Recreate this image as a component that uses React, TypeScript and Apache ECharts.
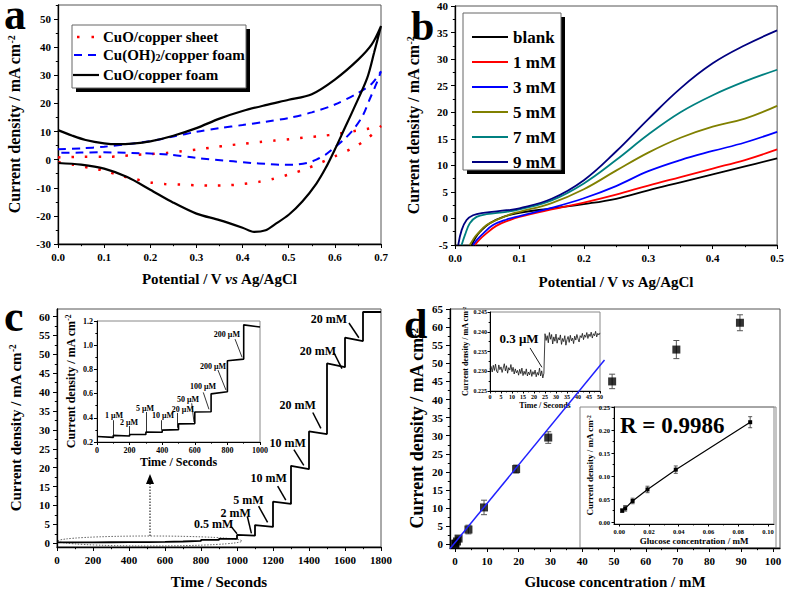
import React, { useEffect, useRef } from "react";
import * as echarts from "echarts";

const FONT = '"Liberation Serif", "Times New Roman", Times, serif';

// ---------- Panel a : cyclic voltammograms (loops) ----------
const aSheetX = [0, 0.05, 0.1, 0.135, 0.167, 0.2, 0.236, 0.268, 0.302, 0.337, 0.37, 0.4, 0.438, 0.47, 0.503, 0.535, 0.57, 0.604, 0.636, 0.669, 0.7,
  0.669, 0.636, 0.6, 0.568, 0.532, 0.5, 0.467, 0.435, 0.4, 0.37, 0.333, 0.3, 0.268, 0.232, 0.2, 0.167, 0.135, 0.1, 0.07, 0.033, 0];
const aSheetY = [0.8, 1.0, 1.0, 1.2, 1.7, 2.0, 2.4, 3.0, 3.6, 4.4, 5.1, 5.6, 6.3, 6.8, 7.3, 7.9, 8.4, 9.1, 10.0, 10.9, 11.9,
  7.3, 3.9, 1.2, -1.2, -3.6, -5.3, -6.8, -7.9, -8.7, -9.1, -9.2, -9.1, -8.9, -8.7, -8.1, -6.9, -5.7, -3.9, -3.0, -1.8, -0.9];
const aOHX = [0, 0.05, 0.1, 0.15, 0.2, 0.25, 0.3, 0.35, 0.4, 0.45, 0.5, 0.55, 0.6, 0.65, 0.68, 0.7,
  0.69, 0.675, 0.66, 0.64, 0.62, 0.6, 0.58, 0.56, 0.54, 0.51, 0.48, 0.45, 0.42, 0.38, 0.3, 0.24, 0.16, 0.09, 0.05, 0];
const aOHY = [3.7, 4.0, 4.6, 5.5, 6.6, 8.2, 9.9, 11.2, 12.3, 13.5, 14.8, 16.8, 19.6, 23.7, 27, 31.4,
  27, 21.3, 15.5, 10.7, 7.2, 4.4, 1.8, 0, -1.2, -1.8, -1.8, -1.5, -1.2, -0.6, 0.6, 1.8, 2.4, 2.6, 2.5, 2.4];
const aFoamX = [0, 0.03, 0.06, 0.1, 0.13, 0.16, 0.2, 0.25, 0.3, 0.35, 0.4, 0.45, 0.5, 0.55, 0.6, 0.65, 0.68, 0.7,
  0.685, 0.67, 0.64, 0.62, 0.6, 0.58, 0.56, 0.53, 0.5, 0.47, 0.45, 0.425, 0.4, 0.35, 0.3, 0.25, 0.2, 0.15, 0.1, 0.05, 0];
const aFoamY = [10.5, 8.6, 7.0, 5.8, 5.5, 5.7, 6.5, 8.5, 11.2, 14.6, 17.3, 19.4, 21.3, 23.3, 28.5, 35.5, 41, 47.5,
  38, 29, 17.8, 10.7, 3.6, -3, -8.5, -14.8, -19.6, -23, -25.1, -25.7, -24.2, -21.5, -19.2, -15.3, -10.7, -6.2, -3.2, -1.8, -1.2];
const aLegend = ["CuO/copper sheet", "Cu(OH){sub|2}/copper foam", "CuO/copper foam"];

// ---------- Panel b : LSV curves ----------
const bNames = ["blank", "1 mM", "3 mM", "5 mM", "7 mM", "9 mM"];
const bColors = ["#000000", "#ff0000", "#0000ff", "#808000", "#008080", "#000080"];
const bBlankX = [0.026, 0.032, 0.039, 0.054, 0.075, 0.1, 0.15, 0.2, 0.25, 0.3, 0.35, 0.4, 0.45, 0.5];
const bBlankY = [-5, -3.6, -2.5, -0.9, 0.3, 1.05, 1.9, 2.7, 3.7, 5.3, 6.8, 8.3, 9.8, 11.3];
const b1X = [0.031, 0.038, 0.046, 0.064, 0.085, 0.1, 0.15, 0.2, 0.25, 0.3, 0.35, 0.4, 0.45, 0.5];
const b1Y = [-5, -4.0, -3.1, -1.4, -0.3, 0.3, 1.7, 3.0, 4.5, 6.2, 7.8, 9.4, 11.0, 13.0];
const b3X = [0.028, 0.035, 0.044, 0.059, 0.08, 0.1, 0.15, 0.2, 0.25, 0.3, 0.35, 0.4, 0.45, 0.5];
const b3Y = [-5, -3.9, -2.8, -1.25, -0.2, 0.45, 2.0, 3.8, 6.1, 8.9, 11.0, 12.7, 14.3, 16.3];
const b5X = [0.023, 0.028, 0.0335, 0.049, 0.07, 0.09, 0.1, 0.15, 0.2, 0.25, 0.3, 0.35, 0.4, 0.45, 0.5];
const b5Y = [-5, -4.0, -3.1, -1.25, 0, 0.95, 1.25, 2.9, 5.5, 9.0, 12.4, 15.2, 17.3, 18.8, 21.2];
const b7X = [0.0103, 0.0155, 0.023, 0.0335, 0.049, 0.08, 0.1, 0.15, 0.2, 0.25, 0.3, 0.35, 0.4, 0.45, 0.5];
const b7Y = [-5, -3.1, -0.9, 0.3, 0.8, 1.25, 1.7, 3.4, 6.6, 11.0, 15.8, 20.0, 23.2, 25.8, 28.0];
const b9X = [0.005, 0.0103, 0.018, 0.028, 0.044, 0.08, 0.1, 0.15, 0.2, 0.25, 0.3, 0.35, 0.4, 0.45, 0.5];
const b9Y = [-5, -2.2, -0.3, 0.6, 1.05, 1.55, 1.9, 3.7, 7.2, 12.6, 18.7, 24.5, 29.2, 32.6, 35.4];

// ---------- Panel c : amperometric steps ----------
const cStepTimes = [0, 100, 200, 300, 400, 500, 600, 700, 800, 900, 1000, 1100, 1200, 1300, 1400, 1500, 1600, 1700];
const cStepStart = [0.245, 0.255, 0.262, 0.282, 0.298, 0.350, 0.448, 0.598, 0.872, 1.168, 2.2, 4.8, 11.0, 20.5, 29.6, 47.6, 54.4, 61.2];
const cStepEnd = [0.238, 0.250, 0.262, 0.280, 0.302, 0.352, 0.450, 0.615, 0.885, 1.150, 2.0, 4.3, 10.4, 19.6, 28.9, 46.6, 53.5, 61.2];
const cStepLength = 100;
const cInsetSteps = 10;
const cNotes = [
  { t: "0.5 mM", x: 870, y: 5.2, x1: 968, y1: 4.4, x2: 1000, y2: 2.5 },
  { t: "2 mM", x: 992, y: 8.1, x1: 1058, y1: 7.0, x2: 1080, y2: 2.6 },
  { t: "5 mM", x: 1064, y: 11.5, x1: 1120, y1: 9.8, x2: 1170, y2: 5.5 },
  { t: "10 mM", x: 1176, y: 17.2, x1: 1226, y1: 15.1, x2: 1271, y2: 11.4 },
  { t: "10 mM", x: 1282, y: 26.4, x1: 1316, y1: 24.8, x2: 1371, y2: 20.6 },
  { t: "20 mM", x: 1337, y: 36.7, x1: 1421, y1: 34.6, x2: 1466, y2: 30.4 },
  { t: "20 mM", x: 1449, y: 50.9, x1: 1539, y1: 50.4, x2: 1583, y2: 46.2 },
  { t: "20 mM", x: 1510, y: 59.4, x1: 1622, y1: 58.3, x2: 1677, y2: 54.4 },
];
const cInsetNotes = [
  { t: "1 μM", x: 104, y: 0.415, x1: 98, y1: 0.38, x2: 98, y2: 0.258 },
  { t: "2 μM", x: 196, y: 0.365, x1: 198, y1: 0.332, x2: 198, y2: 0.266 },
  { t: "5 μM", x: 294, y: 0.48, x1: 300, y1: 0.448, x2: 300, y2: 0.278 },
  { t: "10 μM", x: 405, y: 0.415, x1: 397, y1: 0.38, x2: 397, y2: 0.3 },
  { t: "20 μM", x: 527, y: 0.465, x1: 495, y1: 0.44, x2: 495, y2: 0.318 },
  { t: "50 μM", x: 558, y: 0.555, x1: 581, y1: 0.52, x2: 595, y2: 0.365 },
  { t: "100 μM", x: 650, y: 0.655, x1: 652, y1: 0.61, x2: 687, y2: 0.47 },
  { t: "200 μM", x: 712, y: 0.82, x1: 742, y1: 0.795, x2: 791, y2: 0.63 },
  { t: "200 μM", x: 797, y: 1.09, x1: 847, y1: 1.05, x2: 890, y2: 0.9 },
];

// ---------- Panel d : calibration ----------
const dConc = [0.05, 0.1, 0.6, 1.1, 4.2, 9.1, 19.2, 29.3, 49.4, 69.6, 89.6];
const dCurr = [0.1, 0.25, 0.8, 1.6, 4.1, 10.2, 20.8, 29.5, 45.0, 53.8, 61.2];
const dErr = [0.2, 0.2, 0.3, 0.4, 1.2, 2.0, 1.1, 1.6, 2.0, 2.5, 2.2];
const dFitX = [-1.6, 47.0];
const dFitY = [-1.2, 50.9];
const dNoiseStep = 0.5;
const dNoise = [
  0.2305, 0.2312, 0.2298, 0.2315, 0.2302, 0.2318, 0.2300, 0.2296, 0.2316, 0.2304,
  0.2311, 0.2297, 0.2308, 0.2319, 0.2301, 0.2314, 0.2295, 0.2309, 0.2303, 0.2317,
  0.2299, 0.2310, 0.2293, 0.2306, 0.2296, 0.2302, 0.2290, 0.2305, 0.2294, 0.2308,
  0.2289, 0.2300, 0.2292, 0.2306, 0.2288, 0.2298, 0.2291, 0.2304, 0.2287, 0.2299,
  0.2292, 0.2303, 0.2286, 0.2297, 0.2290, 0.2308, 0.2288, 0.2301, 0.2283, 0.2295,
  0.2395, 0.2378, 0.2390, 0.2372, 0.2398, 0.2381, 0.2393, 0.2369, 0.2387, 0.2376,
  0.2394, 0.2371, 0.2385, 0.2379, 0.2392, 0.2368, 0.2383, 0.2375, 0.2390, 0.2366,
  0.2380, 0.2388, 0.2373, 0.2391, 0.2377, 0.2384, 0.2370, 0.2389, 0.2379, 0.2393,
  0.2382, 0.2374, 0.2390, 0.2385, 0.2396, 0.2380, 0.2392, 0.2386, 0.2398, 0.2383,
  0.2394, 0.2388, 0.2399, 0.2384, 0.2395, 0.2390, 0.2401, 0.2387, 0.2396, 0.2392, 0.2397,
];
const dNoiseNote = { t: "0.3 μM", x: 13.2, y: 0.2384, x1: 18.2, y1: 0.2359, x2: 23.6, y2: 0.231 };
const d2Conc = [0.002, 0.004, 0.009, 0.019, 0.038, 0.088];
const d2Curr = [0.025, 0.030, 0.046, 0.071, 0.114, 0.217];
const d2Err = [0.004, 0.006, 0.006, 0.007, 0.008, 0.012];

// ---------- helpers ----------
function range(a: number, b: number, s: number): number[] {
  const out: number[] = [];
  const n = Math.round((b - a) / s);
  for (let i = 0; i <= n; i++) out.push(+(a + i * s).toFixed(6));
  return out;
}
const zip = (xs: number[], ys: number[]) => xs.map((x, i) => [x, ys[i]]);
function steps(t: number[], s: number[], e: number[], dt: number) {
  const out: number[][] = [];
  t.forEach((ti, i) => {
    out.push([ti, s[i]]);
    out.push([ti + dt, e[i]]);
  });
  return out;
}
const sup = (size: number) => ({
  sup: { fontFamily: FONT, fontWeight: "bold", fontSize: size, verticalAlign: "top", lineHeight: size, color: "#000" },
  it: { fontFamily: FONT, fontWeight: "bold", fontStyle: "italic", fontSize: size * 1.6, color: "#000" },
});

type AxisCfg = {
  grid: number; min: number; max: number; majors: number[]; minors: number[];
  fmt?: (v: number) => string; size: number; name?: string; nameGap?: number; nameSize?: number;
  tick?: number; margin?: number; lineW?: number;
};
function mainAxis(c: AxisCfg, isX: boolean) {
  return {
    type: "value", gridIndex: c.grid, min: c.min, max: c.max, position: isX ? "bottom" : "left",
    axisLine: { show: true, onZero: false, lineStyle: { color: "#000", width: c.lineW ?? 1.3 } },
    axisTick: { show: true, inside: false, length: c.tick ?? 4, customValues: c.majors, lineStyle: { color: "#000", width: 1 } },
    minorTick: { show: false },
    splitLine: { show: false },
    axisLabel: {
      show: true, customValues: c.majors, formatter: c.fmt ?? ((v: number) => String(v)),
      color: "#000", fontFamily: FONT, fontWeight: "bold", fontSize: c.size, margin: c.margin ?? 7, hideOverlap: false,
    },
    name: c.name ?? "", nameLocation: "middle", nameGap: c.nameGap ?? 20,
    nameTextStyle: { color: "#000", fontFamily: FONT, fontWeight: "bold", fontSize: c.nameSize ?? 14, rich: sup((c.nameSize ?? 14) * 0.62) },
  };
}
function minorAxis(c: AxisCfg, isX: boolean) {
  return {
    type: "value", gridIndex: c.grid, min: c.min, max: c.max, position: isX ? "bottom" : "left",
    axisLine: { show: false, onZero: false },
    axisTick: { show: true, inside: false, length: (c.tick ?? 4) * 0.55, customValues: c.minors, lineStyle: { color: "#000", width: 1 } },
    axisLabel: { show: false }, splitLine: { show: false }, minorTick: { show: false }, silent: true,
  };
}
const f1 = (v: number) => v.toFixed(1);
const f2 = (v: number) => v.toFixed(2);
const f3 = (v: number) => v.toFixed(3);
const YT = "Current density / mA cm{sup|-2}";

const xCfg: AxisCfg[] = [
  { grid: 0, min: 0, max: 0.7, majors: range(0, 0.7, 0.1), minors: range(0.05, 0.65, 0.1), fmt: f1, size: 11, name: "Potential / V {it|vs} Ag/AgCl", nameGap: 27, nameSize: 15 },
  { grid: 1, min: 0, max: 0.5, majors: range(0, 0.5, 0.1), minors: range(0.05, 0.45, 0.1), fmt: f1, size: 11, name: "Potential / V {it|vs} Ag/AgCl", nameGap: 29, nameSize: 15 },
  { grid: 2, min: 0, max: 1800, majors: range(0, 1800, 200), minors: range(100, 1700, 200), size: 11, name: "Time / Seconds", nameGap: 27, nameSize: 15 },
  { grid: 3, min: 0, max: 1000, majors: range(0, 1000, 200), minors: range(100, 900, 200), size: 8, name: "Time / Seconds", nameGap: 14, nameSize: 12, tick: 3, margin: 4, lineW: 1 },
  { grid: 4, min: -1.6, max: 102.2, majors: range(0, 100, 10), minors: range(5, 95, 10), size: 11, name: "Glucose concentration / mM", nameGap: 26, nameSize: 15 },
  { grid: 5, min: 0, max: 50, majors: range(0, 50, 5), minors: range(2.5, 47.5, 5), size: 6, name: "Time / Seconds", nameGap: 10, nameSize: 8, tick: 2.5, margin: 3, lineW: 1 },
  { grid: 6, min: -0.0035, max: 0.104, majors: range(0, 0.1, 0.02), minors: range(0.01, 0.09, 0.02), fmt: f2, size: 6.5, name: "Glucose concentration / mM", nameGap: 12, nameSize: 9, tick: 2.5, margin: 4, lineW: 1 },
];
const yCfg: AxisCfg[] = [
  { grid: 0, min: -30, max: 55, majors: range(-30, 50, 10), minors: range(-25, 55, 10), size: 11, name: YT, nameGap: 36, nameSize: 16 },
  { grid: 1, min: -5, max: 40, majors: range(-5, 40, 5), minors: range(-2.5, 37.5, 5), size: 11, name: YT, nameGap: 34, nameSize: 16 },
  { grid: 2, min: -1, max: 62, majors: range(0, 60, 5), minors: range(2.5, 57.5, 5), size: 11, name: YT, nameGap: 34, nameSize: 15 },
  { grid: 3, min: 0.2, max: 1.2, majors: range(0.2, 1.2, 0.2), minors: range(0.3, 1.1, 0.2), fmt: f1, size: 8, name: YT, nameGap: 20, nameSize: 12, tick: 3, margin: 4, lineW: 1 },
  { grid: 4, min: -1, max: 65, majors: range(0, 65, 5), minors: range(2.5, 62.5, 5), size: 11, name: YT, nameGap: 24, nameSize: 18 },
  { grid: 5, min: 0.225, max: 0.245, majors: range(0.225, 0.245, 0.005), minors: range(0.2275, 0.2425, 0.005), fmt: f3, size: 6, name: YT, nameGap: 18, nameSize: 8, tick: 2.5, margin: 3, lineW: 1 },
  { grid: 6, min: -0.004, max: 0.25, majors: range(0, 0.25, 0.05), minors: range(0.025, 0.225, 0.05), fmt: f2, size: 6.5, name: YT, nameGap: 19, nameSize: 9, tick: 2.5, margin: 4, lineW: 1 },
];

function errorBars(xi: number, data: number[][], cap: number, z: number) {
  return {
    type: "custom", xAxisIndex: xi, yAxisIndex: xi, z, silent: true,
    encode: { x: 0, y: 1 },
    data,
    renderItem: (_p: any, api: any) => {
      const x = api.value(0), y = api.value(1), e = api.value(2);
      const a = api.coord([x, y + e]);
      const b = api.coord([x, y - e]);
      const st = { stroke: "#555", lineWidth: 1 };
      return {
        type: "group",
        children: [
          { type: "line", shape: { x1: a[0], y1: a[1], x2: b[0], y2: b[1] }, style: st },
          { type: "line", shape: { x1: a[0] - cap, y1: a[1], x2: a[0] + cap, y2: a[1] }, style: st },
          { type: "line", shape: { x1: b[0] - cap, y1: b[1], x2: b[0] + cap, y2: b[1] }, style: st },
        ],
      };
    },
  };
}
function notesMark(notes: any[], fontSize: number, width: number, head: number) {
  return {
    markLine: {
      silent: true, symbol: ["none", "arrow"], symbolSize: [0, head], animation: false,
      lineStyle: { color: "#000", width, type: "solid" }, label: { show: false },
      data: notes.map((n) => [{ coord: [n.x1, n.y1] }, { coord: [n.x2, n.y2] }]),
    },
    markPoint: {
      silent: true, symbol: "circle", symbolSize: 1, animation: false, itemStyle: { color: "rgba(0,0,0,0)" },
      label: { show: true, position: "inside", formatter: "{b}", color: "#000", fontFamily: FONT, fontWeight: "bold", fontSize, lineHeight: fontSize },
      data: notes.map((n) => ({ name: n.t, coord: [n.x, n.y] })),
    },
  };
}

function buildOption() {
  const mainGrid = { show: true, borderColor: "#555", borderWidth: 1, backgroundColor: "transparent" };
  const insetGrid = { show: true, borderColor: "#888", borderWidth: 1, backgroundColor: "#fff" };
  const bData = [zip(bBlankX, bBlankY), zip(b1X, b1Y), zip(b3X, b3Y), zip(b5X, b5Y), zip(b7X, b7Y), zip(b9X, b9Y)];
  const cAll = steps(cStepTimes, cStepStart, cStepEnd, cStepLength);
  const cInset = steps(cStepTimes.slice(0, cInsetSteps), cStepStart.slice(0, cInsetSteps), cStepEnd.slice(0, cInsetSteps), cStepLength);
  const noise = dNoise.map((v, i) => [i * dNoiseStep, v]);
  const txt = (x: number, y: number, text: string, size: number, extra: any = {}) => ({
    type: "text", x, y, silent: true,
    style: { text, fontFamily: FONT, fontWeight: "bold", fontSize: size, fill: "#000", verticalAlign: "middle", align: "left", ...extra },
  });
  const legendA: any[] = [
    { type: "rect", shape: { x: 76, y: 29, width: 174, height: 63 }, style: { fill: "#000" }, silent: true },
    { type: "rect", shape: { x: 72, y: 25, width: 174, height: 63 }, style: { fill: "#fff", stroke: "#666", lineWidth: 1 }, silent: true },
    { type: "line", shape: { x1: 77, y1: 37, x2: 99, y2: 37 }, style: { stroke: "#ff0000", lineWidth: 2.5, lineDash: [2.5, 12] }, silent: true },
    { type: "line", shape: { x1: 74, y1: 55, x2: 98, y2: 55 }, style: { stroke: "#0000ff", lineWidth: 2, lineDash: [8, 6] }, silent: true },
    { type: "line", shape: { x1: 73, y1: 75, x2: 99, y2: 75 }, style: { stroke: "#000", lineWidth: 2.2 }, silent: true },
  ];
  [37, 55, 75].forEach((y, i) => {
    legendA.push(txt(103, y, aLegend[i], 15, {
      rich: { sub: { fontFamily: FONT, fontWeight: "bold", fontSize: 10, lineHeight: 10, verticalAlign: "bottom", fill: "#000" } },
    }));
  });
  const bRows = [37, 62, 87, 112, 137, 162];
  const legendB: any[] = [
    { type: "rect", shape: { x: 467, y: 17, width: 98, height: 157 }, style: { fill: "#000" }, silent: true },
    { type: "rect", shape: { x: 463, y: 13, width: 98, height: 157 }, style: { fill: "#fff", stroke: "#666", lineWidth: 1 }, silent: true },
  ];
  bRows.forEach((y, i) => {
    legendB.push({ type: "line", shape: { x1: 472, y1: y, x2: 508, y2: y }, style: { stroke: bColors[i], lineWidth: 2 }, silent: true });
    legendB.push(txt(513, y, bNames[i], 17));
  });

  const graphic: any[] = [
    ...legendA,
    ...legendB,
    txt(4, 14, "a", 44, { lineHeight: 28 }),
    txt(411, 26, "b", 42, { lineHeight: 30 }),
    txt(4, 316, "c", 44, { lineHeight: 28 }),
    txt(404, 324, "d", 42, { lineHeight: 30 }),
    { type: "rect", shape: { x: 580, y: 407, width: 196, height: 141 }, style: { fill: "none", stroke: "#888", lineWidth: 1 }, silent: true },
    txt(620, 425, "R = 0.9986", 23),
    { type: "ellipse", shape: { cx: 150, cy: 541, rx: 92, ry: 5 }, style: { fill: "none", stroke: "#666", lineWidth: 1, lineDash: [1.5, 1.5] }, silent: true },
    { type: "line", shape: { x1: 150, y1: 536, x2: 150, y2: 482 }, style: { stroke: "#000", lineWidth: 1, lineDash: [1.5, 1.5] }, silent: true },
    { type: "polygon", shape: { points: [[146, 484], [154, 484], [150, 474]] }, style: { fill: "#000" }, silent: true },
  ];

  return {
    animation: false,
    backgroundColor: "#fff",
    textStyle: { fontFamily: FONT },
    grid: [
      { left: 58, top: 5, width: 323, height: 239, ...mainGrid },
      { left: 455, top: 6, width: 323, height: 239, ...mainGrid },
      { left: 57, top: 309, width: 324, height: 239, ...mainGrid },
      { left: 97, top: 321, width: 163, height: 121, ...insetGrid },
      { left: 450, top: 309, width: 330, height: 239, ...mainGrid },
      { left: 490, top: 312, width: 110, height: 79, ...insetGrid },
      { left: 614, top: 407, width: 160, height: 117, ...insetGrid },
    ],
    xAxis: [...xCfg.map((c) => mainAxis(c, true)), ...xCfg.map((c) => minorAxis(c, true))],
    yAxis: [...yCfg.map((c) => mainAxis(c, false)), ...yCfg.map((c) => minorAxis(c, false))],
    series: [
      { type: "line", xAxisIndex: 0, yAxisIndex: 0, data: zip(aSheetX, aSheetY), showSymbol: false, smooth: 0.3, lineStyle: { color: "#ff0000", width: 2.5, type: [2.5, 11] } },
      { type: "line", xAxisIndex: 0, yAxisIndex: 0, data: zip(aOHX, aOHY), showSymbol: false, smooth: 0.3, lineStyle: { color: "#0000ff", width: 2, type: [8, 6] } },
      { type: "line", xAxisIndex: 0, yAxisIndex: 0, data: zip(aFoamX, aFoamY), showSymbol: false, smooth: 0.3, lineStyle: { color: "#000", width: 2.2 } },
      ...bData.map((d, i) => ({
        type: "line", xAxisIndex: 1, yAxisIndex: 1, data: d, showSymbol: false, smooth: 0.4,
        lineStyle: { color: bColors[i], width: 1.8 }, z: 2 + i * 0.01,
      })),
      { type: "line", xAxisIndex: 2, yAxisIndex: 2, data: cAll, showSymbol: false, lineStyle: { color: "#000", width: 1.8 }, ...notesMark(cNotes, 12, 1.5, 7) },
      { type: "line", xAxisIndex: 3, yAxisIndex: 3, data: cInset, showSymbol: false, lineStyle: { color: "#000", width: 1.6 }, ...notesMark(cInsetNotes, 8, 0.8, 4) },
      errorBars(4, dConc.map((x, i) => [x, dCurr[i], dErr[i]]), 3, 2),
      { type: "scatter", xAxisIndex: 4, yAxisIndex: 4, data: zip(dConc, dCurr), symbol: "rect", symbolSize: 8, itemStyle: { color: "#000" }, z: 4 },
      { type: "line", xAxisIndex: 4, yAxisIndex: 4, data: zip(dFitX, dFitY), showSymbol: false, lineStyle: { color: "#2020ff", width: 1.5 }, z: 5 },
      { type: "line", xAxisIndex: 5, yAxisIndex: 5, data: noise, showSymbol: false, lineStyle: { color: "#111", width: 0.8 }, ...notesMark([dNoiseNote], 13, 0.9, 5) },
      errorBars(6, d2Conc.map((x, i) => [x, d2Curr[i], d2Err[i]]), 2, 2),
      { type: "line", xAxisIndex: 6, yAxisIndex: 6, data: zip(d2Conc, d2Curr), symbol: "rect", symbolSize: 4, showSymbol: true, itemStyle: { color: "#000" }, lineStyle: { color: "#000", width: 1.2 }, z: 4 },
    ],
    graphic,
  };
}

export default function App() {
  const ref = useRef<HTMLDivElement>(null);
  useEffect(() => {
    if (!ref.current) return;
    const chart = echarts.init(ref.current, null, { renderer: "svg" });
    chart.setOption(buildOption() as any);
    return () => chart.dispose();
  }, []);
  return <div ref={ref} style={{ position: "absolute", left: 0, top: 0, width: 787, height: 590 }} />;
}
